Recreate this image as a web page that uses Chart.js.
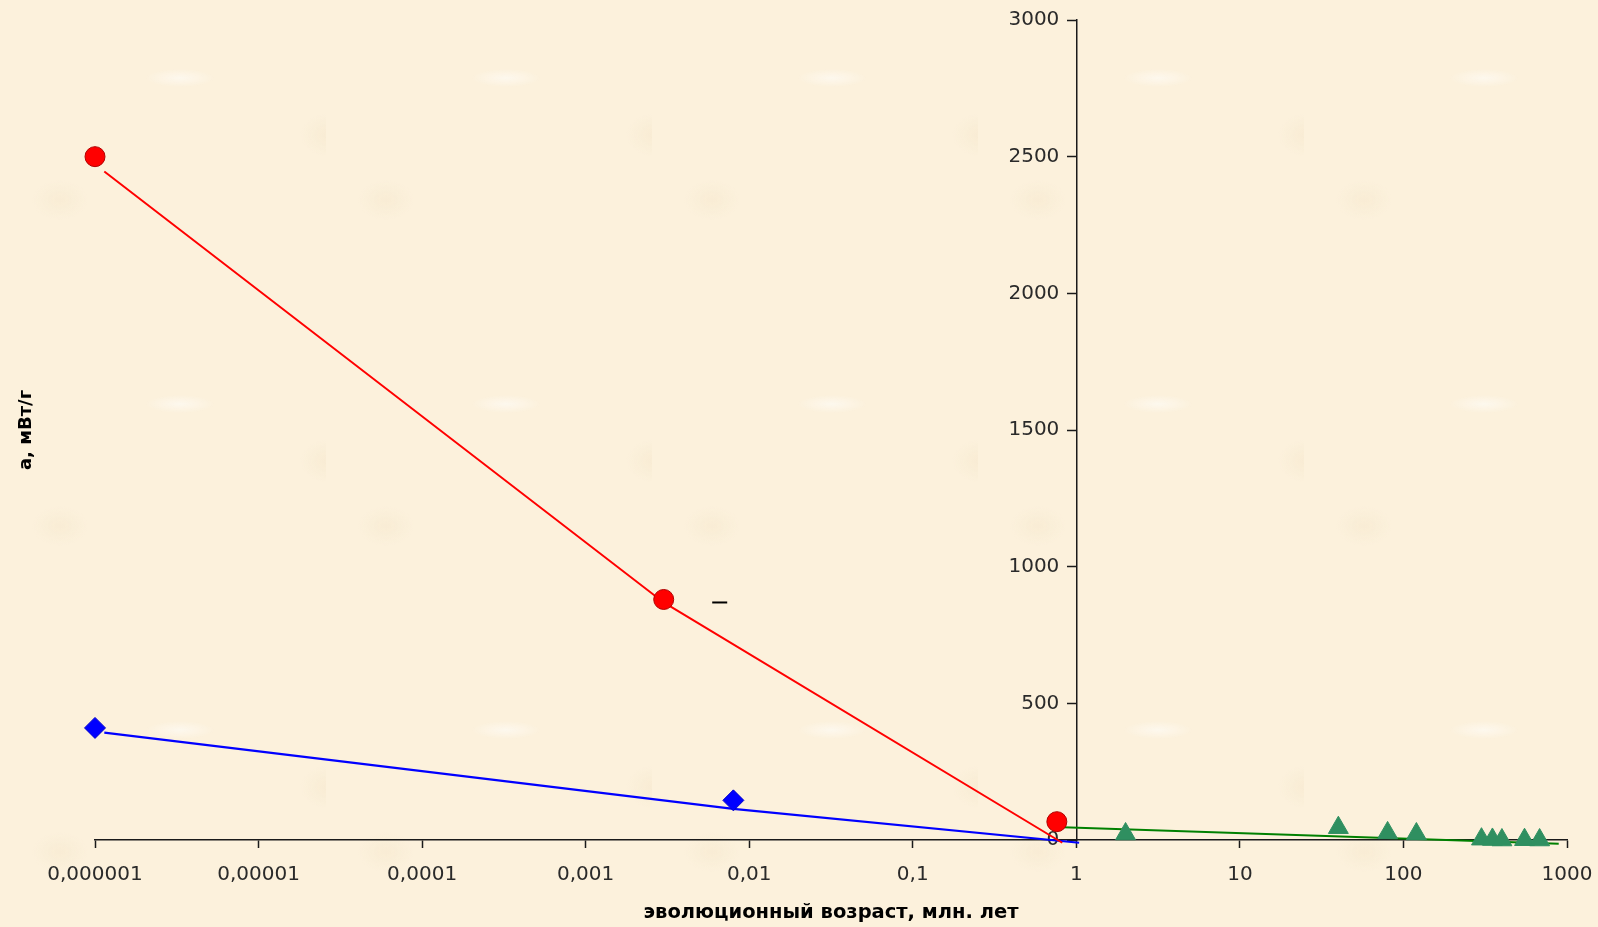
<!DOCTYPE html>
<html lang="ru">
<head>
<meta charset="utf-8">
<title>Удельное тепловыделение и эволюционный возраст</title>
<script src="https://cdn.jsdelivr.net/npm/chart.js@4.4.1/dist/chart.umd.min.js"></script>
<style>
  html, body { margin: 0; padding: 0; background: #fcf1dc; }
  #wrap {
    position: relative; width: 1598px; height: 927px;
    background-color: #fcf1dc;
    background-image:
      radial-gradient(ellipse 34px 9px at 180px 78px, rgba(255,255,255,0.5), rgba(255,255,255,0) 100%),
      radial-gradient(ellipse 30px 22px at 330px 135px, rgba(238,222,190,0.3), rgba(238,222,190,0) 100%),
      radial-gradient(ellipse 28px 20px at 60px 200px, rgba(238,222,190,0.25), rgba(238,222,190,0) 100%);
    background-size: 326px 326px;
  }
</style>
</head>
<body>
<div id="wrap"><canvas id="chart"></canvas></div>
<script>
// Measured points: age (million years) and a (mW/g)
const redAges = [0.000001, 0.003, 0.76];
const redValues = [2500, 880, 67];
const blueAges = [0.000001, 0.008];
const blueValues = [410, 145];
const greenAges = [2, 40, 80, 120, 300, 350, 400, 550, 680];
const greenValues = [22, 45, 26, 22, 3, 2, 0, 1, 0];

// Trend lines drawn through each group
const redTrendAges = [0.00000114, 0.003, 0.82];
const redTrendValues = [2446, 869, -10];
const blueTrendAges = [0.00000114, 0.008, 1.04];
const blueTrendValues = [393, 114, -10];
const greenTrendAges = [0.83, 890];
const greenTrendValues = [47, -14];

// Short dash next to the second red point
const dashAges = [0.0066];
const dashValues = [869];

// Axes
const xTickValues = [0.000001, 0.00001, 0.0001, 0.001, 0.01, 0.1, 1, 10, 100, 1000];
const xTickLabels = ['0,000001', '0,00001', '0,0001', '0,001', '0,01', '0,1', '1', '10', '100', '1000'];
const yMin = 0, yMax = 3000, yStep = 500;
const xTitle = 'эволюционный возраст, млн. лет';
const yTitle = 'а, мВт/г';

const pts = (xs, ys) => xs.map((x, i) => ({ x: x, y: ys[i] }));

// Vertical axis title sits at the far left edge of the figure
const yTitlePlugin = {
  id: 'yTitleLeft',
  afterDraw(chart) {
    const { ctx, chartArea } = chart;
    ctx.save();
    ctx.translate(chartArea.left - 69, (chartArea.top + chartArea.bottom) / 2);
    ctx.rotate(-Math.PI / 2);
    ctx.font = 'bold 18px "DejaVu Sans"';
    ctx.fillStyle = '#000';
    ctx.textAlign = 'center';
    ctx.textBaseline = 'middle';
    ctx.fillText(yTitle, 0, 0);
    ctx.restore();
  }
};

// The value axis crosses at x = 1; move its labels clear of the tick marks
const yLabelOffsetPlugin = {
  id: 'yLabelOffset',
  beforeDraw(chart) {
    const s = chart.scales.y;
    const items = s.getLabelItems();
    if (!items._offsetDone) {
      const off = s.options.grid.tickLength + s.options.ticks.padding;
      items.forEach(it => { it.options.translation[0] -= off; });
      items._offsetDone = true;
    }
  }
};

new Chart(document.getElementById('chart'), {
  type: 'scatter',
  data: {
    datasets: [
      { data: pts(dashAges, dashValues), pointStyle: 'line', pointRadius: 7.5, borderColor: '#000', borderWidth: 2, backgroundColor: '#000' },
      { data: pts(redAges, redValues), pointStyle: 'circle', pointRadius: 10, backgroundColor: '#ff0000', borderColor: '#b00000', borderWidth: 1, clip: false },
      { data: pts(blueAges, blueValues), pointStyle: 'rectRot', pointRadius: 10.5, backgroundColor: '#0000ff', borderColor: '#0000cc', borderWidth: 1, clip: false },
      { data: pts(greenAges, greenValues), pointStyle: 'triangle', pointRadius: 11.5, backgroundColor: '#2f8f60', borderColor: '#2f8f60', borderWidth: 1, clip: false },
      { data: pts(redTrendAges, redTrendValues), showLine: true, pointRadius: 0, borderColor: '#ff0000', borderWidth: 2, clip: false },
      { data: pts(blueTrendAges, blueTrendValues), showLine: true, pointRadius: 0, borderColor: '#0000ff', borderWidth: 2.2, clip: false },
      { data: pts(greenTrendAges, greenTrendValues), showLine: true, pointRadius: 0, borderColor: '#008000', borderWidth: 2, clip: false }
    ]
  },
  options: {
    responsive: true,
    maintainAspectRatio: false,
    animation: false,
    layout: { padding: { left: 95, right: 31, top: 20, bottom: 0 } },
    plugins: { legend: { display: false }, tooltip: { enabled: false } },
    scales: {
      x: {
        type: 'logarithmic',
        position: 'bottom',
        min: xTickValues[0],
        max: xTickValues[xTickValues.length - 1],
        afterBuildTicks: (scale) => { scale.ticks = xTickValues.map(v => ({ value: v })); },
        afterFit: (scale) => { scale.height = 87; scale.paddingLeft = 0; scale.paddingRight = 0; },
        grid: { drawOnChartArea: false, drawTicks: true, tickLength: 8, tickColor: '#1a1a1a', tickWidth: 1.5 },
        border: { display: true, color: '#1a1a1a', width: 1.5 },
        ticks: {
          autoSkip: false, maxRotation: 0, padding: 15, color: '#2a2a2a',
          font: { family: '"DejaVu Sans"', size: 20 },
          callback: (value) => { const i = xTickValues.findIndex(v => Math.abs(v - value) / v < 1e-6); return i >= 0 ? xTickLabels[i] : ''; }
        },
        title: { display: true, text: xTitle, color: '#000', font: { family: '"DejaVu Sans"', size: 19.5, weight: 'bold' }, padding: { top: 0, bottom: 2 } }
      },
      y: {
        type: 'linear',
        position: { x: 1 },
        min: yMin, max: yMax,
        afterFit: (scale) => { scale.width = 0; },
        grid: { drawOnChartArea: false, drawTicks: true, tickLength: 9, tickColor: '#1a1a1a', tickWidth: 1.5 },
        border: { display: true, color: '#1a1a1a', width: 1.5 },
        ticks: { stepSize: yStep, padding: 8, color: '#2a2a2a', font: { family: '"DejaVu Sans"', size: 20 }, callback: (value) => String(value) }
      }
    }
  },
  plugins: [yTitlePlugin, yLabelOffsetPlugin]
});
</script>
</body>
</html>
